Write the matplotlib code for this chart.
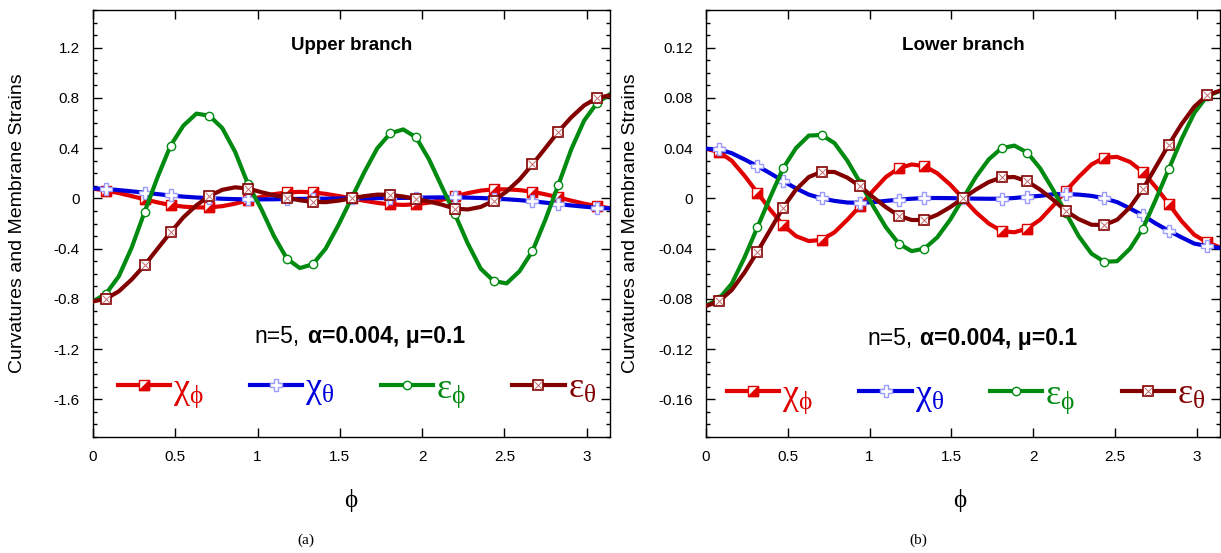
import numpy as np
import matplotlib
matplotlib.use("Agg")
import matplotlib.pyplot as plt
from matplotlib.path import Path
from matplotlib.ticker import MultipleLocator, FuncFormatter
from matplotlib.legend_handler import HandlerTuple

plt.rcParams['font.family'] = ['Liberation Sans', 'DejaVu Sans']
plt.rcParams['axes.unicode_minus'] = False
plt.rcParams['mathtext.fontset'] = 'custom'
plt.rcParams['mathtext.rm'] = 'Liberation Serif'
plt.rcParams['mathtext.it'] = 'Liberation Serif'
plt.rcParams['mathtext.bf'] = 'Liberation Serif:bold'
plt.rcParams['mathtext.default'] = 'rm'

# ---- data: phi grid (41 samples from 0 to pi) ----
phi = np.linspace(0, np.pi, 41)
mark_idx = [1, 4, 6, 9, 12, 15, 17, 20, 23, 25, 28, 31, 34, 36, 39]

# Upper branch
up_chi_phi = [0.078, 0.062, 0.042, 0.018, -0.008, -0.032, -0.053, -0.066, -0.072, -0.072,
              -0.062, -0.042, -0.015, 0.012, 0.034, 0.047, 0.052, 0.048, 0.036, 0.019,
              0.0, -0.019, -0.036, -0.048, -0.052, -0.047, -0.034, -0.012, 0.015, 0.042,
              0.062, 0.072, 0.072, 0.066, 0.053, 0.032, 0.008, -0.018, -0.042, -0.062, -0.078]
up_chi_theta = [0.080, 0.075, 0.066, 0.056, 0.045, 0.034, 0.023, 0.014, 0.007, 0.002,
                -0.003, -0.006, -0.008, -0.008, -0.007, -0.005, -0.004, -0.003, -0.002, -0.001,
                0.0, 0.001, 0.002, 0.003, 0.004, 0.005, 0.007, 0.008, 0.008, 0.006,
                0.003, -0.002, -0.007, -0.014, -0.023, -0.034, -0.045, -0.056, -0.066, -0.075, -0.080]
up_eps_phi = [-0.82, -0.76, -0.62, -0.39, -0.106, 0.17, 0.42, 0.58, 0.675, 0.658,
              0.56, 0.37, 0.111, -0.08, -0.30, -0.48, -0.555, -0.525, -0.40, -0.21,
              0.0, 0.21, 0.40, 0.518, 0.549, 0.486, 0.31, 0.09, -0.125, -0.36,
              -0.56, -0.658, -0.677, -0.58, -0.42, -0.17, 0.106, 0.39, 0.62, 0.76, 0.83]
up_eps_theta = [-0.82, -0.80, -0.74, -0.645, -0.531, -0.40, -0.271, -0.15, -0.055, 0.019,
                0.068, 0.088, 0.078, 0.05, 0.025, 0.005, -0.015, -0.028, -0.03, -0.018,
                0.0, 0.018, 0.03, 0.028, 0.015, -0.005, -0.025, -0.05, -0.082, -0.088,
                -0.068, -0.019, 0.055, 0.15, 0.271, 0.40, 0.531, 0.645, 0.74, 0.80, 0.82]

# Lower branch
lo_chi_phi = [0.0395, 0.037, 0.030, 0.018, 0.0045, -0.009, -0.0212, -0.030, -0.034, -0.033,
              -0.027, -0.017, -0.006, 0.006, 0.017, 0.024, 0.027, 0.0257, 0.020, 0.011,
              0.0, -0.011, -0.020, -0.026, -0.027, -0.024, -0.017, -0.006, 0.006, 0.017,
              0.027, 0.0325, 0.033, 0.029, 0.021, 0.009, -0.0042, -0.018, -0.029, -0.035, -0.039]
lo_chi_theta = [0.0395, 0.039, 0.036, 0.031, 0.0257, 0.020, 0.0138, 0.008, 0.003, 0.0,
                -0.002, -0.0033, -0.0035, -0.003, -0.002, -0.001, -0.0003, 0.0003, 0.0003, 0.0002,
                0.0, -0.0002, -0.0003, -0.0003, 0.0003, 0.0013, 0.002, 0.0033, 0.0035, 0.003,
                0.002, 0.0, -0.003, -0.008, -0.0135, -0.020, -0.0257, -0.031, -0.036, -0.038, -0.0395]
lo_eps_phi = [-0.0855, -0.080, -0.068, -0.047, -0.023, 0.001, 0.024, 0.040, 0.050, 0.0505,
              0.044, 0.030, 0.0125, -0.006, -0.023, -0.036, -0.042, -0.040, -0.031, -0.017,
              0.0, 0.017, 0.031, 0.040, 0.042, 0.0365, 0.024, 0.007, -0.0115, -0.030,
              -0.044, -0.0505, -0.050, -0.040, -0.024, -0.001, 0.023, 0.047, 0.068, 0.0815, 0.0855]
lo_eps_theta = [-0.0857, -0.082, -0.073, -0.059, -0.0425, -0.025, -0.0074, 0.007, 0.017, 0.0212,
                0.021, 0.0165, 0.0096, 0.001, -0.007, -0.0138, -0.0172, -0.0172, -0.013, -0.007,
                0.0, 0.007, 0.013, 0.0167, 0.017, 0.0135, 0.007, -0.001, -0.010, -0.0165,
                -0.021, -0.0212, -0.017, -0.007, 0.0074, 0.025, 0.0425, 0.059, 0.073, 0.0823, 0.0857]

labels = [r'$\chi_{\phi}$', r'$\chi_{\theta}$', r'$\varepsilon_{\phi}$', r'$\varepsilon_{\theta}$']
panel_titles = ['Upper branch', 'Lower branch']
param_text_a = 'n=5,'
param_text_b = 'α=0.004, μ=0.1'
ylabel = 'Curvatures and Membrane Strains'

RED = '#e00000'
BLUE = '#0000dd'
GREEN = '#008a10'
BROWN = '#820000'

tri = Path([(-1, -1), (1, -1), (1, 1), (-1, -1)],
           [Path.MOVETO, Path.LINETO, Path.LINETO, Path.CLOSEPOLY])

W, H = 1221, 553
fig = plt.figure(figsize=(W / 100, H / 100), dpi=100)
ax1 = fig.add_axes([93 / W, 1 - 437 / H, 517 / W, 427 / H])
ax2 = fig.add_axes([706 / W, 1 - 437 / H, 514 / W, 427 / H])

fmt = FuncFormatter(lambda v, p: '0' if abs(v) < 1e-9 else f'{v:g}')


def draw(ax, cphi, cth, ephi, eth, ylim, major, minor, title, title_y, leg_xy,
         split_x, text_y):
    lw = 3.0
    l_red, = ax.plot(phi, cphi, color=RED, lw=lw, marker='s', ms=6.5, mfc='white',
                     mec=RED, mew=1.0, markevery=mark_idx, zorder=2)
    m_red, = ax.plot(phi[mark_idx], np.asarray(cphi)[mark_idx], ls='none', marker=tri,
                     ms=6.5, mfc=RED, mec=RED, mew=1.0, zorder=2.1)
    l_blue, = ax.plot(phi, cth, color=BLUE, lw=lw, marker='P', ms=8.5, mfc='white',
                      mec='#9a9aff', mew=1.0, markevery=mark_idx, zorder=3)
    l_green, = ax.plot(phi, ephi, color=GREEN, lw=lw, marker='o', ms=6, mfc='white',
                       mec=GREEN, mew=1.0, markevery=mark_idx, zorder=4)
    l_brown, = ax.plot(phi, eth, color=BROWN, lw=lw, marker='s', ms=6.5, mfc='white',
                       mec=BROWN, mew=1.2, markevery=mark_idx, zorder=5)
    m_brown, = ax.plot(phi[mark_idx], np.asarray(eth)[mark_idx], ls='none', marker='x',
                       ms=5.6, mec='#c46e6e', mew=0.7, zorder=5.1)

    ax.set_xlim(0, np.pi)
    ax.set_ylim(*ylim)
    ax.xaxis.set_major_locator(MultipleLocator(0.5))
    ax.yaxis.set_major_locator(MultipleLocator(major))
    ax.yaxis.set_minor_locator(MultipleLocator(minor))
    ax.xaxis.set_major_formatter(fmt)
    ax.yaxis.set_major_formatter(fmt)
    ax.tick_params(which='both', direction='in', top=True, right=True,
                   labelsize=11, width=1.0, colors='black')
    ax.tick_params(which='major', length=6.5, pad=9.5)
    ax.tick_params(which='minor', length=3.2)
    ax.tick_params(axis='x', which='minor', top=False, bottom=False)
    for s in ax.spines.values():
        s.set_linewidth(1.0)

    ax.text(np.pi / 2, title_y, title, ha='center', va='center', fontsize=13.5,
            fontweight='bold')
    ax.text(split_x - 0.008, text_y, param_text_a, transform=ax.transAxes, ha='right',
            va='baseline', fontsize=16.5)
    ax.text(split_x + 0.008, text_y, param_text_b, transform=ax.transAxes, ha='left',
            va='baseline', fontsize=16.5, fontweight='bold')
    ax.set_ylabel(ylabel, fontsize=14)
    ax.yaxis.set_label_coords(-0.13, 0.5)

    leg = ax.legend([(l_red, m_red), l_blue, l_green, (l_brown, m_brown)], labels,
                    handler_map={tuple: HandlerTuple(ndivide=1, pad=0)},
                    ncol=4, frameon=False, loc='center left', bbox_to_anchor=leg_xy,
                    borderaxespad=0, borderpad=0, fontsize=26, handlelength=1.45,
                    handletextpad=0.08, columnspacing=1.28, numpoints=1)
    for t, c in zip(leg.get_texts(), [RED, BLUE, GREEN, BROWN]):
        t.set_color(c)


draw(ax1, up_chi_phi, up_chi_theta, up_eps_phi, up_eps_theta,
     (-1.9, 1.5), 0.4, 0.1, panel_titles[0], 1.22, (0.048, 0.11), 0.408, 0.22)
draw(ax2, lo_chi_phi, lo_chi_theta, lo_eps_phi, lo_eps_theta,
     (-0.19, 0.15), 0.04, 0.01, panel_titles[1], 0.122, (0.041, 0.095), 0.409, 0.215)

for xc in [351, 960]:
    fig.text(xc / W, 1 - 500 / H, 'ϕ', ha='center', va='center', fontsize=18,
             family=['Liberation Serif', 'DejaVu Serif'])
for xc, sub in [(306, '(a)'), (918, '(b)')]:
    fig.text(xc / W, 1 - 540 / H, sub, ha='center', va='center', fontsize=11,
             family=['Liberation Serif', 'DejaVu Serif'])

fig.savefig('out.png', dpi=100)
